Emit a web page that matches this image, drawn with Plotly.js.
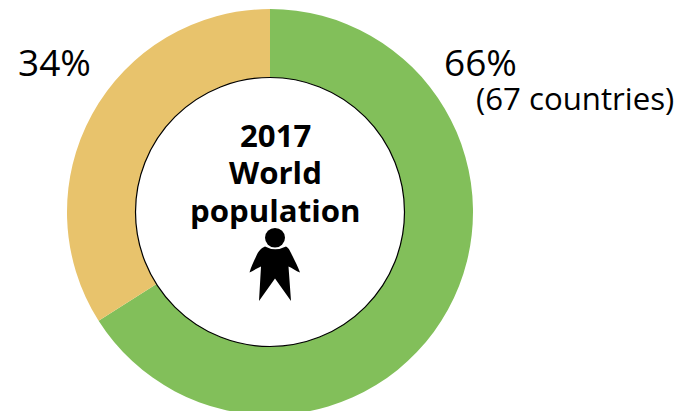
<!DOCTYPE html>
<html><head><meta charset="utf-8"><script src="https://cdn.plot.ly/plotly-3.0.0.min.js"></script>
<style>html,body{margin:0;padding:0;background:#fff;overflow:hidden}</style></head><body><div id="c" style="width:680px;height:411px;overflow:hidden"></div>
<script>
const labels=['66% (67 countries)','34%'];
const values=[66,34];
const colors=['#82BF5A','#E8C36C'];
const W=680,H=418;
const cx=270,cy=212,R=203,r=134.5;
const t=(x,y,text,size,bold)=>({x:x/W,y:1-y/H,xref:'paper',yref:'paper',text:bold?'<b>'+text+'</b>':text,showarrow:false,xanchor:'center',yanchor:'middle',font:{family:'Open Sans',size:size,color:'#000'}});
const person='M 265 246.5 C 261 248 258 252 256.5 255.5 C 254 261 251 267 249.5 272.5 C 253 271 257 268 261 266.5 L 259 301 L 275 278.5 L 291 301 L 288.5 266.5 C 292 268 296 271 300 272.5 C 298 267 295 261 292.5 256 C 290.5 252 289 248 286 246.5 Q 275 252 265 246.5 Z';
Plotly.newPlot('c',[{type:'pie',labels:labels,values:values,hole:0.66,sort:false,direction:'clockwise',rotation:0,marker:{colors:colors,line:{width:0}},textinfo:'none',hoverinfo:'label',domain:{x:[(cx-R)/W,(cx+R)/W],y:[1-(cy+R)/H,1-(cy-R)/H]}}],{
width:W,height:H,margin:{l:0,r:0,t:0,b:0},paper_bgcolor:'#fff',showlegend:false,
annotations:[t(54.5,61,'34%',37),t(480,61,'66%',37),t(574.5,98,'(67 countries)',31.2),t(275,135,'2017',31.2,true),t(275,172,'World',31.2,true),t(275.5,210,'population',31.2,true)],
shapes:[
{type:'circle',xref:'x',yref:'y',x0:cx-r,x1:cx+r,y0:cy+r,y1:cy-r,fillcolor:'#fff',line:{width:1.2,color:'#000'},layer:'above'},
{type:'circle',xref:'x',yref:'y',x0:265,x1:285,y0:247.5,y1:228,fillcolor:'#000',line:{width:0}},
{type:'path',xref:'x',yref:'y',path:person,fillcolor:'#000',line:{width:0}}],
xaxis:{range:[0,W],visible:false,fixedrange:true},yaxis:{range:[H,0],visible:false,fixedrange:true}
},{displayModeBar:false,staticPlot:true});
</script></body></html>
